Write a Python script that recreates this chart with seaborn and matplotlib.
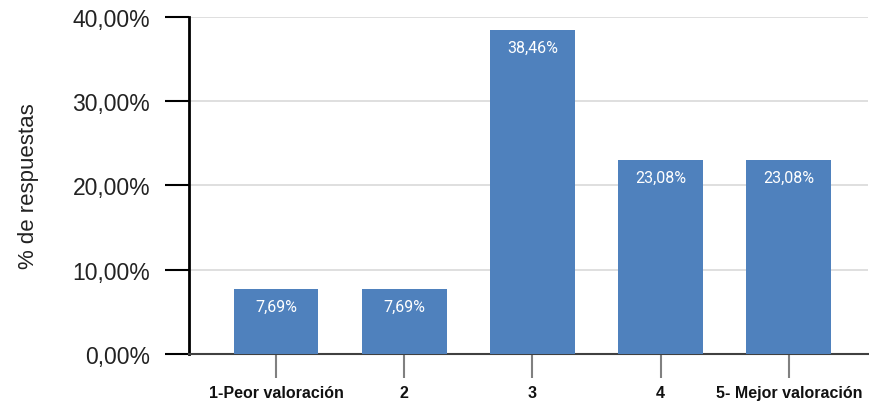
import matplotlib
matplotlib.use("Agg")
import matplotlib.pyplot as plt
import seaborn as sns
import pandas as pd
from matplotlib.ticker import FuncFormatter

# ----------------------------------
# Data
# ----------------------------------
categories = ["1-Peor valoración", "2", "3", "4", "5- Mejor valoración"]
pct_values = [7.69, 7.69, 38.46, 23.08, 23.08]
y_ticks = [0, 10, 20, 30, 40]

df = pd.DataFrame({"categoria": categories, "pct": pct_values})

sns.set_style("white")
plt.rcParams["font.family"] = ["Liberation Sans", "DejaVu Sans"]

fig = plt.figure(figsize=(8.7, 4.06), dpi=100)
ax = fig.add_axes([0.2172, 0.1256, 0.7808, 0.8301])

sns.barplot(data=df, x="categoria", y="pct", color="#4f81bd",
            saturation=1, width=0.66, linewidth=0, edgecolor="none",
            ax=ax, zorder=3)

# value labels inside the top of each bar
for patch, val in zip(ax.patches, pct_values):
    ax.annotate(f"{val:.2f}%".replace(".", ","),
                xy=(patch.get_x() + patch.get_width() / 2, patch.get_height()),
                xytext=(0, -12.5), textcoords="offset points",
                ha="center", va="center", color="white", fontsize=11.5,
                family=["Roboto", "DejaVu Sans"], zorder=4)

ax.set_ylim(0, 40)
ax.set_xlim(-0.68, 4.62)
ax.set_yticks(y_ticks)
ax.yaxis.set_major_formatter(FuncFormatter(lambda v, _: f"{v:.2f}%".replace(".", ",")))
ax.grid(axis="y", color="#d9d9d9", linewidth=1.2, zorder=0)

ax.set_xlabel("")
ax.set_ylabel("% de respuestas", fontsize=16, labelpad=24, color="#222222")

ax.tick_params(axis="y", labelsize=16.5, length=17, width=1.5, color="black",
               labelcolor="#222222", direction="out", left=True, pad=11)
ax.tick_params(axis="x", length=17, width=1.5, color="#808080",
               labelcolor="#111111", direction="out", bottom=True, pad=5)
for lbl in ax.get_xticklabels():
    lbl.set_fontweight("bold")
    lbl.set_fontsize(11.5)

for side in ["top", "right"]:
    ax.spines[side].set_visible(False)
ax.spines["left"].set_color("black")
ax.spines["left"].set_linewidth(2)
ax.spines["bottom"].set_color("#404040")
ax.spines["bottom"].set_linewidth(1.5)

fig.savefig("out.png", dpi=100)
